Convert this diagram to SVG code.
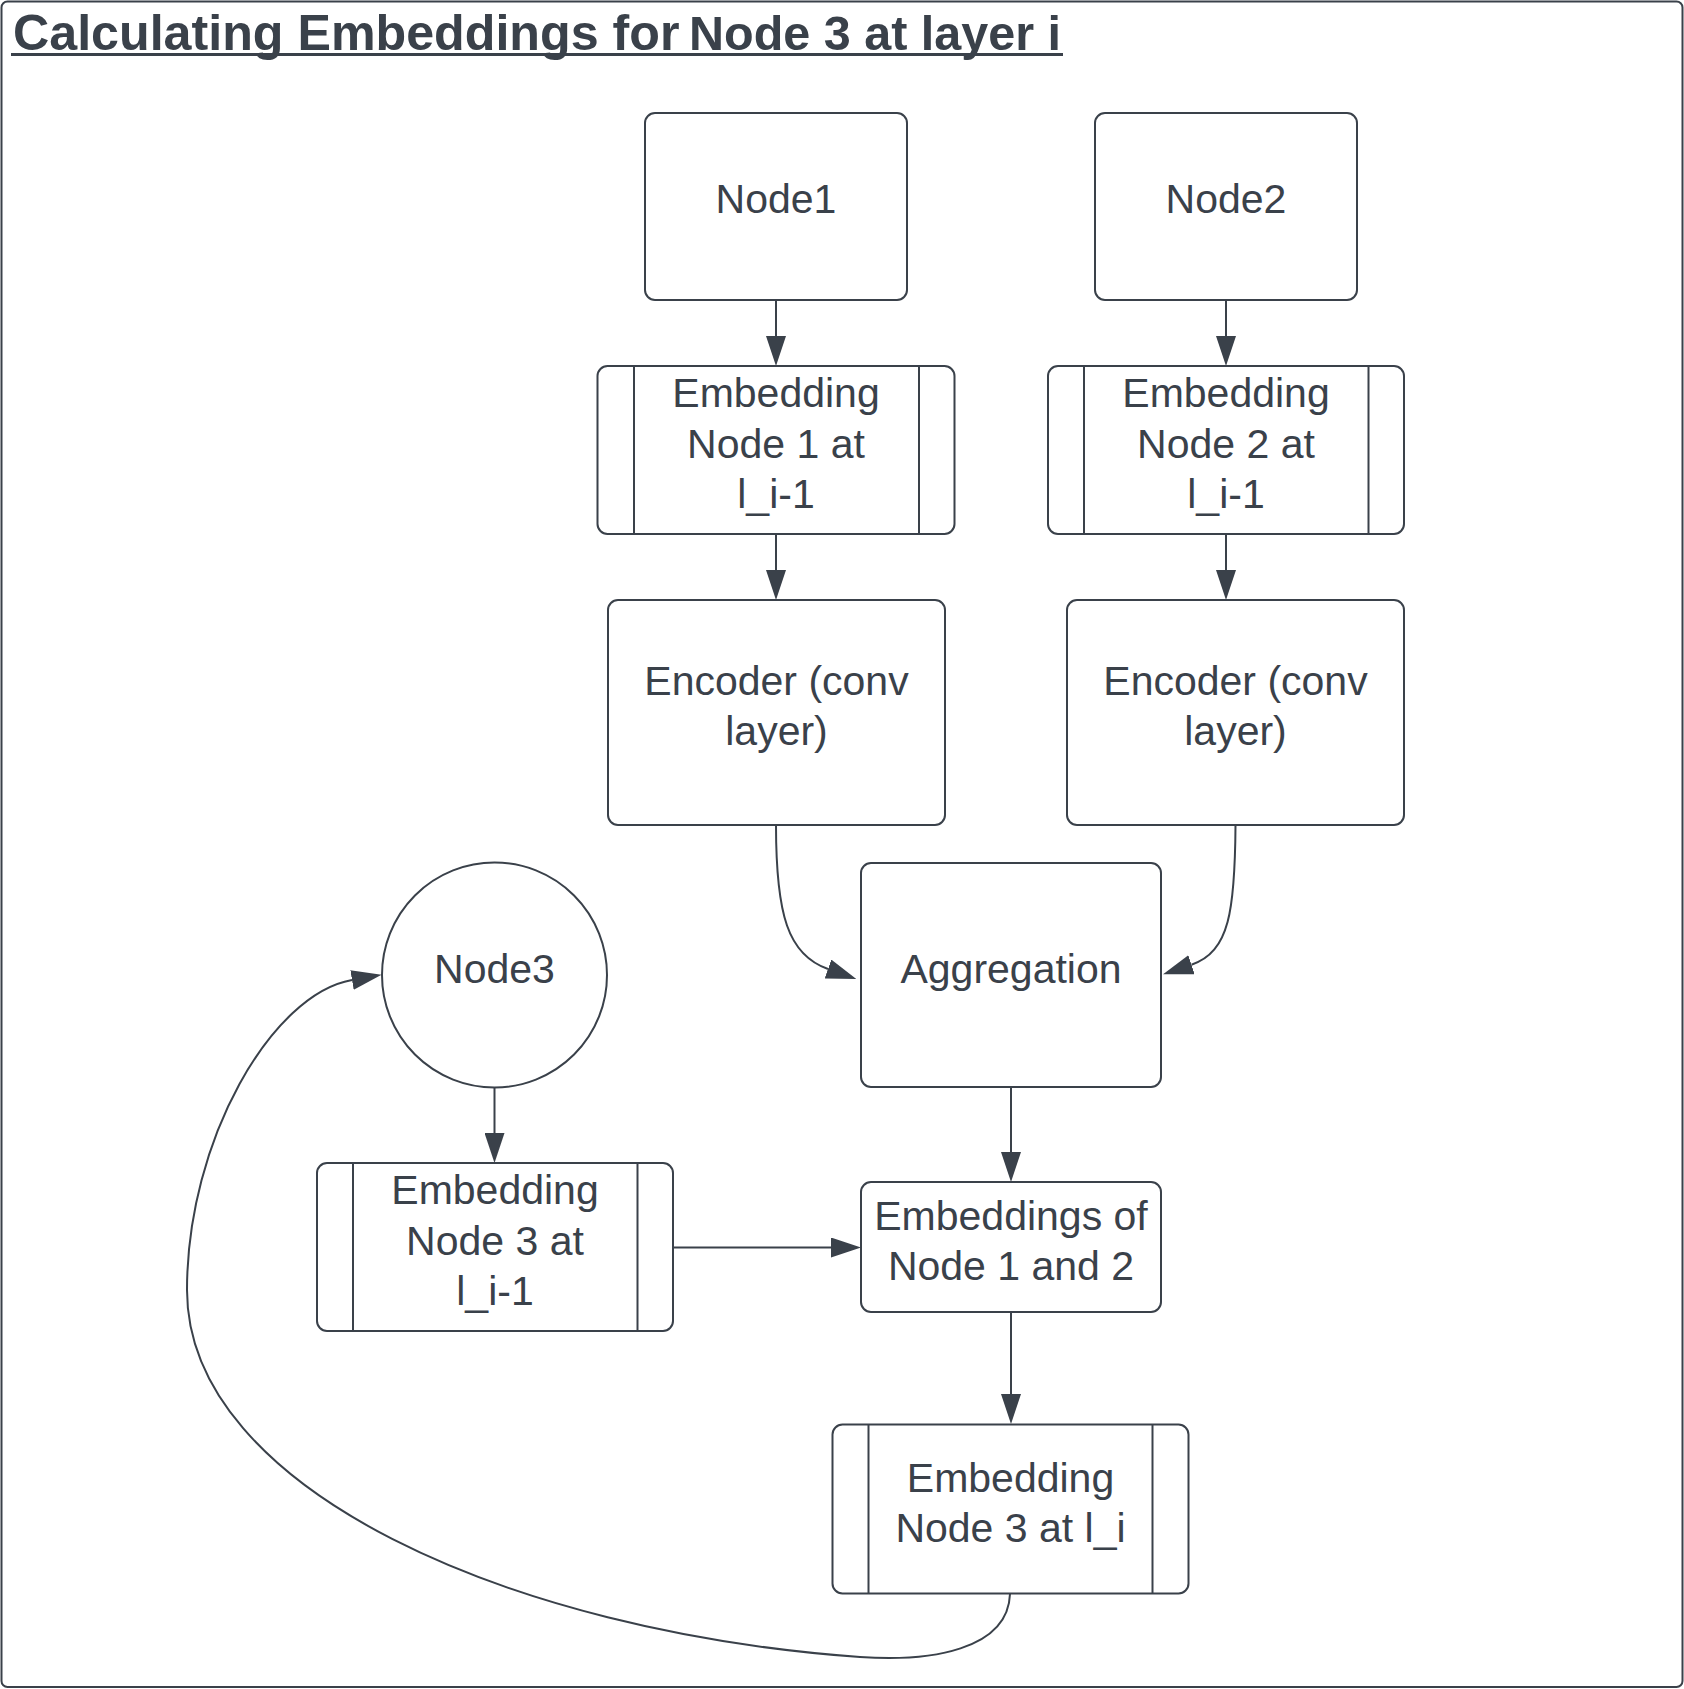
<svg xmlns="http://www.w3.org/2000/svg" width="1684" height="1689" viewBox="0 0 1684 1689">
<style>
.box{fill:#ffffff;stroke:#3a414a;stroke-width:2}
.div{stroke:#3a414a;stroke-width:2;fill:none}
.edge{fill:none;stroke:#3a414a;stroke-width:2;marker-end:url(#arrow)}
.t{font-family:"Liberation Sans",Arial,sans-serif;font-size:41px;fill:#3a414a;text-anchor:middle}
.title{font-family:"Liberation Sans",Arial,sans-serif;font-weight:bold;fill:#3a414a}
</style>
<defs>
<marker id="arrow" markerUnits="userSpaceOnUse" viewBox="0 0 30 20" markerWidth="30" markerHeight="20" refX="0" refY="10" orient="auto">
<path d="M0,0 L30,10 L0,20 Z" fill="#3a414a"/>
</marker>
</defs>
<rect x="0" y="0" width="1684" height="1689" fill="#ffffff"/>
<rect id="frame" x="1.5" y="1.5" width="1681" height="1685.5" rx="6" fill="none" stroke="#3a414a" stroke-width="2"/>
<g id="title">
<text class="title" y="50"><tspan x="13" font-size="50.2">Calculating Embeddings for </tspan><tspan x="689" font-size="48.5">Node 3 at layer i</tspan></text>
<line x1="11" y1="54.5" x2="1063" y2="54.5" stroke="#3a414a" stroke-width="3"/>
</g>
<g id="connectors">
<path class="edge" d="M776,300 V336"/>
<path class="edge" d="M1226,300 V336"/>
<path class="edge" d="M776,534 V570"/>
<path class="edge" d="M1226,534 V570"/>
<path class="edge" d="M776,825 C776,915 788,955 828,969"/>
<path class="edge" d="M1235.5,825 C1235,910 1229.5,952 1191.5,964.7"/>
<path class="edge" d="M1011,1087 V1152"/>
<path class="edge" d="M494.5,1088 V1133"/>
<path class="edge" d="M673,1247.5 H831"/>
<path class="edge" d="M1011,1312 V1394"/>
<path class="edge" d="M1010,1594 C1008,1650 930,1662 860,1657 C511,1632 187,1490 187,1290 C187,1140 272,994 352,980"/>
</g>
<g id="node1">
<rect class="box" x="645" y="113" width="262" height="187" rx="10"/>
<text class="t" x="776" y="213">Node1</text>
</g>
<g id="node2">
<rect class="box" x="1095" y="113" width="262" height="187" rx="10"/>
<text class="t" x="1226" y="213">Node2</text>
</g>
<g id="emb1">
<rect class="box" x="597.5" y="366" width="357" height="168" rx="10"/>
<line class="div" x1="634" y1="366" x2="634" y2="534"/>
<line class="div" x1="919" y1="366" x2="919" y2="534"/>
<text class="t" x="776" y="407">Embedding</text>
<text class="t" x="776" y="457.5">Node 1 at</text>
<text class="t" x="776" y="508">l_i-1</text>
</g>
<g id="emb2">
<rect class="box" x="1048" y="366" width="356" height="168" rx="10"/>
<line class="div" x1="1084" y1="366" x2="1084" y2="534"/>
<line class="div" x1="1368.5" y1="366" x2="1368.5" y2="534"/>
<text class="t" x="1226" y="407">Embedding</text>
<text class="t" x="1226" y="457.5">Node 2 at</text>
<text class="t" x="1226" y="508">l_i-1</text>
</g>
<g id="enc1">
<rect class="box" x="608" y="600" width="337" height="225" rx="10"/>
<text class="t" x="776.5" y="695">Encoder (conv</text>
<text class="t" x="776.5" y="745">layer)</text>
</g>
<g id="enc2">
<rect class="box" x="1067" y="600" width="337" height="225" rx="10"/>
<text class="t" x="1235.5" y="695">Encoder (conv</text>
<text class="t" x="1235.5" y="745">layer)</text>
</g>
<g id="aggregation">
<rect class="box" x="861" y="863" width="300" height="224" rx="10"/>
<text class="t" x="1011" y="983">Aggregation</text>
</g>
<g id="node3">
<circle class="box" cx="494.5" cy="975" r="112.5"/>
<text class="t" x="494.5" y="983">Node3</text>
</g>
<g id="emb3prev">
<rect class="box" x="317" y="1163" width="356" height="168" rx="10"/>
<line class="div" x1="353" y1="1163" x2="353" y2="1331"/>
<line class="div" x1="637.5" y1="1163" x2="637.5" y2="1331"/>
<text class="t" x="495" y="1204">Embedding</text>
<text class="t" x="495" y="1255">Node 3 at</text>
<text class="t" x="495" y="1305">l_i-1</text>
</g>
<g id="emb12">
<rect class="box" x="861" y="1182" width="300" height="130" rx="10"/>
<text class="t" x="1011" y="1230">Embeddings of</text>
<text class="t" x="1011" y="1280">Node 1 and 2</text>
</g>
<g id="emb3">
<rect class="box" x="832.5" y="1424.5" width="356" height="169" rx="10"/>
<line class="div" x1="868.5" y1="1424.5" x2="868.5" y2="1593.5"/>
<line class="div" x1="1152.5" y1="1424.5" x2="1152.5" y2="1593.5"/>
<text class="t" x="1010.5" y="1492">Embedding</text>
<text class="t" x="1010.5" y="1542">Node 3 at l_i</text>
</g>
</svg>
